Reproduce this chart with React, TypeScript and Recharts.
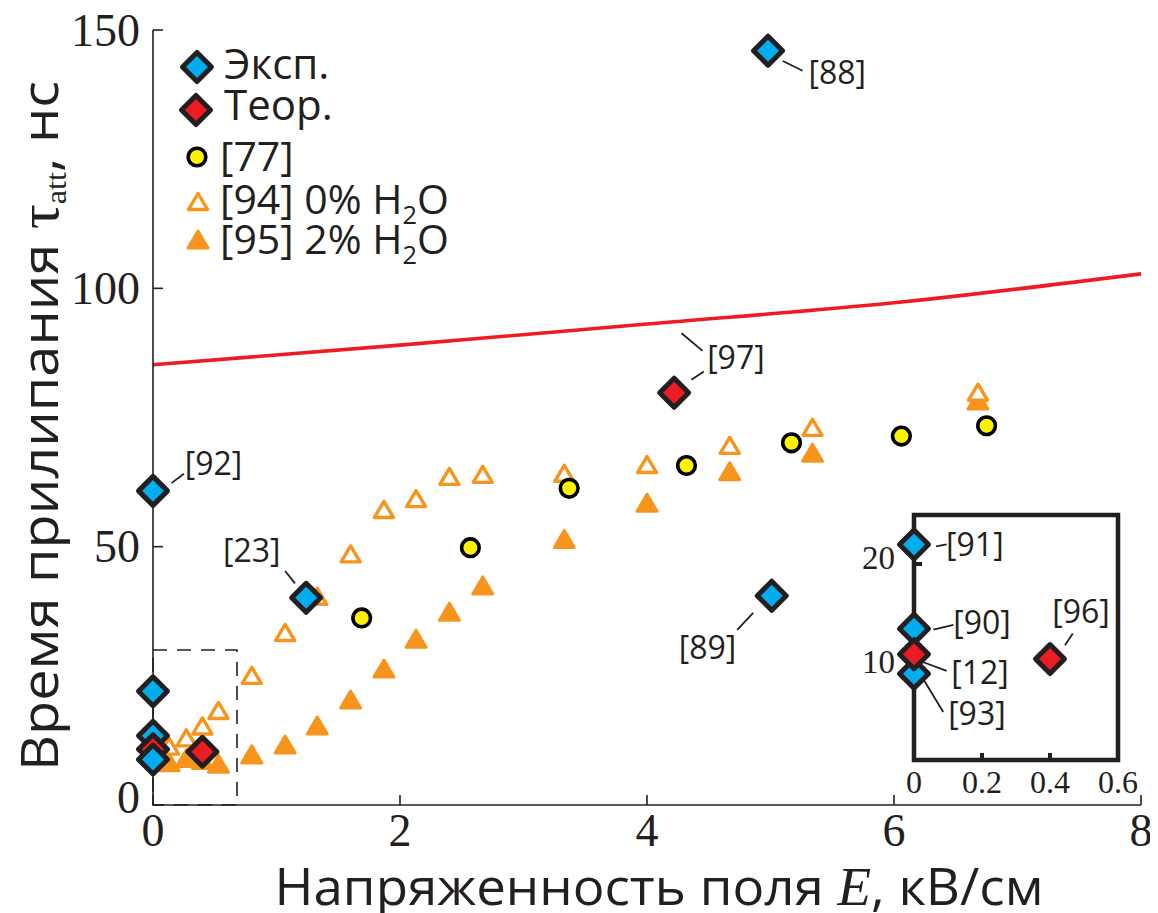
import React from 'react';
import {
  ComposedChart,
  XAxis,
  YAxis,
  Scatter,
  Line,
  ReferenceArea,
  ReferenceLine,
} from 'recharts';

const INK = '#231f20';
const BLUE = '#00aeef';
const RED = '#ed1c24';
const YELLOW = '#fff200';
const ORANGE = '#f7941d';
const SANS = "'Open Sans', 'Noto Sans', sans-serif";
const SERIF = "'Liberation Serif', 'Times New Roman', serif";

// Experimental attachment times: field E (kV/cm) and tau (ns)
const expRefs = ['[88]', '[92]', '[23]', '[89]', '[91]', '[90]', '[93]'];
const expE = [4.98, 0, 1.24, 5.01, 0, 0, 0];
const expTau = [146.0, 60.8, 40.1, 40.5, 22.0, 13.4, 8.8];

// Theoretical estimates
const theoRefs = ['[97]', '[12]', '[96]'];
const theoE = [4.22, 0, 0.4];
const theoTau = [79.8, 10.8, 10.3];

// [77]
const ref77E = [1.69, 2.57, 3.37, 4.32, 5.17, 6.06, 6.75];
const ref77Tau = [36.2, 49.8, 61.3, 65.7, 70.1, 71.4, 73.4];

// [94] 0% H2O
const ref94E = [0.13, 0.27, 0.4, 0.53, 0.8, 1.07, 1.33, 1.6, 1.87, 2.13, 2.4, 2.67, 3.33, 4.0, 4.67, 5.34, 6.68];
const ref94Tau = [11.3, 12.9, 15.2, 18.2, 25.0, 33.3, 40.3, 48.5, 57.1, 59.2, 63.5, 63.9, 64.1, 65.8, 69.5, 73.0, 79.8];

// [95] 2% H2O
const ref95E = [0.13, 0.27, 0.4, 0.53, 0.8, 1.07, 1.33, 1.6, 1.87, 2.13, 2.4, 2.67, 3.33, 4.0, 4.67, 5.34, 6.68];
const ref95Tau = [8.2, 9.0, 8.6, 7.9, 9.7, 11.6, 15.3, 20.3, 26.3, 32.1, 37.3, 42.4, 51.4, 58.4, 64.5, 68.1, 78.2];

// Theory curve
const curveE = [0, 2, 4, 6, 8];
const curveTau = [85.2, 89.0, 93.1, 97.2, 102.8];

// Axis ticks
const xTicks = [0, 2, 4, 6, 8];
const xInnerTicks = [2, 4, 6];
const yTicks = [0, 50, 100, 150];
const yRightTicks = [37.5, 75, 112.5];
const insetXTicks = [0, 0.2, 0.4, 0.6];
const insetXInner = [0.2, 0.4];
const insetYTicks = [10, 20];

const zip = (xs: number[], ys: number[]) => xs.map((x, i) => ({ x, y: ys[i] }));

type Diamond = { ref: string; x: number; y: number; kind: 'exp' | 'theo' };
const diamonds: Diamond[] = [
  ...expRefs.map((ref, i) => ({ ref, x: expE[i], y: expTau[i], kind: 'exp' as const })),
  ...theoRefs.map((ref, i) => ({ ref, x: theoE[i], y: theoTau[i], kind: 'theo' as const })),
];
const byRef = (r: string) => diamonds.find((d) => d.ref === r)!;

// drawing order of the overlapping diamonds at E = 0
const mainStack = ['[88]', '[92]', '[23]', '[89]', '[97]', '[91]', '[90]', '[12]', '[96]', '[93]'].map(byRef);
const insetStack = ['[93]', '[91]', '[90]', '[12]', '[96]'].map(byRef);

type Note = { ref: string; at: [number, number]; leads: [number, number][][] };
const mainNotes: Note[] = [
  { ref: '[88]', at: [5.54, 141.3], leads: [[[5.1, 144.0], [5.26, 142.1]]] },
  { ref: '[92]', at: [0.49, 65.6], leads: [[[0.15, 62.3], [0.25, 64.1]]] },
  { ref: '[23]', at: [0.8, 48.8], leads: [[[1.07, 45.3], [1.15, 42.9]]] },
  { ref: '[89]', at: [4.49, 30.0], leads: [[[4.73, 33.9], [4.86, 37.2]]] },
  {
    ref: '[97]',
    at: [4.72, 86.1],
    leads: [
      [[4.28, 91.3], [4.45, 87.9]],
      [[4.36, 82.3], [4.46, 83.9]],
    ],
  },
];
const insetNotes: Note[] = [
  { ref: '[91]', at: [0.179, 21.7], leads: [[[0.065, 21.8], [0.096, 22.0]]] },
  { ref: '[90]', at: [0.2, 13.7], leads: [[[0.057, 13.3], [0.116, 13.8]]] },
  { ref: '[12]', at: [0.194, 8.6], leads: [[[0.018, 10.1], [0.096, 9.1]]] },
  { ref: '[93]', at: [0.185, 4.5], leads: [[[0.023, 8.5], [0.086, 4.9]]] },
  { ref: '[96]', at: [0.491, 14.9], leads: [[[0.467, 12.9], [0.444, 11.7]]] },
];

const diamondPath = (cx: number, cy: number, h = 14.5) =>
  `M${cx},${cy - h}L${cx + h},${cy}L${cx},${cy + h}L${cx - h},${cy}Z`;

const DiamondShape = (p: any) => (
  <path
    d={diamondPath(p.cx, p.cy)}
    fill={p.payload.kind === 'exp' ? BLUE : RED}
    stroke={INK}
    strokeWidth={5}
    strokeLinejoin="round"
  />
);
const CircleShape = (p: any) => (
  <circle cx={p.cx} cy={p.cy} r={8.8} fill={YELLOW} stroke="#000" strokeWidth={3.6} />
);
const filledTri = (cx: number, cy: number) => (
  <path
    d={`M${cx},${cy - 9}L${cx + 10},${cy + 8}L${cx - 10},${cy + 8}Z`}
    fill={ORANGE}
    stroke={ORANGE}
    strokeWidth={3}
    strokeLinejoin="round"
  />
);
const openTri = (cx: number, cy: number) => (
  <path
    d={`M${cx},${cy - 8.5}L${cx + 9.5},${cy + 7.5}L${cx - 9.5},${cy + 7.5}Z`}
    fill="#fff"
    stroke={ORANGE}
    strokeWidth={3.4}
    strokeLinejoin="round"
  />
);
const FilledTriShape = (p: any) => filledTri(p.cx, p.cy);
const OpenTriShape = (p: any) => openTri(p.cx, p.cy);

const NoteShape = (p: any) => (
  <text x={p.cx} y={p.cy} dy="0.27em" textAnchor="middle" fontFamily={SANS} fontSize={32} fill={INK}>
    {p.payload.text}
  </text>
);

const EmptyTick = () => <g />;

const MainYTick = (p: any) => (
  <text
    x={p.x}
    y={p.y + (p.payload.value === 0 ? -8 : 0)}
    dy="0.34em"
    textAnchor="end"
    fontFamily={SERIF}
    fontSize={46}
    fill={INK}
  >
    {p.payload.value}
  </text>
);
const MainXTick = (p: any) => (
  <text x={p.x} y={p.y} dy="0.68em" textAnchor="middle" fontFamily={SERIF} fontSize={46} fill={INK}>
    {p.payload.value}
  </text>
);
const InsetYTick = (p: any) => (
  <text
    x={p.x}
    y={p.y + (p.payload.value === 20 ? -6 : 0)}
    dy="0.34em"
    textAnchor="end"
    fontFamily={SERIF}
    fontSize={33}
    fill={INK}
  >
    {p.payload.value}
  </text>
);
const InsetXTick = (p: any) => (
  <text x={p.x} y={p.y} dy="0.68em" textAnchor="middle" fontFamily={SERIF} fontSize={32} fill={INK}>
    {p.payload.value === 0 ? '0' : p.payload.value.toFixed(1)}
  </text>
);

const notePoints = (notes: Note[]) => notes.map((n) => ({ x: n.at[0], y: n.at[1], text: n.ref }));
const leaderLines = (notes: Note[], key: string) =>
  notes.flatMap((n, i) =>
    n.leads.map((seg, j) => (
      <ReferenceLine
        key={`${key}-${i}-${j}`}
        segment={[
          { x: seg[0][0], y: seg[0][1] },
          { x: seg[1][0], y: seg[1][1] },
        ]}
        stroke={INK}
        strokeWidth={1.8}
      />
    ))
  );

const tickLine = { stroke: INK, strokeWidth: 1.6 };
const insetTickLine = { stroke: INK, strokeWidth: 4 };

const legendRows = [
  { label: 'Эксп.', marker: 'exp' },
  { label: 'Теор.', marker: 'theo' },
  { label: '[77]', marker: 'circle' },
  { label: '[94] 0% H2O', marker: 'open' },
  { label: '[95] 2% H2O', marker: 'filled' },
];

function LegendMarker({ kind, x, y }: { kind: string; x: number; y: number }) {
  if (kind === 'exp' || kind === 'theo')
    return (
      <path
        d={diamondPath(x, y)}
        fill={kind === 'exp' ? BLUE : RED}
        stroke={INK}
        strokeWidth={5}
        strokeLinejoin="round"
      />
    );
  if (kind === 'circle') return <circle cx={x} cy={y} r={8.8} fill={YELLOW} stroke="#000" strokeWidth={3.6} />;
  if (kind === 'open') return openTri(x, y);
  return filledTri(x, y);
}

function LegendLabel({ text, x, y, size }: { text: string; x: number; y: number; size: number }) {
  const m = text.match(/^(.*H)2(O)$/);
  return (
    <text x={x} y={y} fontFamily={SANS} fontSize={size} fill={INK}>
      {m ? (
        <>
          {m[1]}
          <tspan fontSize={size * 0.62} dy={10}>
            2
          </tspan>
          <tspan dy={-10}>{m[2]}</tspan>
        </>
      ) : (
        text
      )}
    </text>
  );
}

const legendLayout = [
  { mx: 189, my: 59, tx: 216, ty: 71, size: 42 },
  { mx: 188, my: 102, tx: 216, ty: 112, size: 42 },
  { mx: 189, my: 149, tx: 212, ty: 163, size: 41 },
  { mx: 190, my: 194, tx: 212, ty: 206, size: 41 },
  { mx: 190, my: 232, tx: 212, ty: 246, size: 41 },
];

export default function App() {
  return (
    <div style={{ position: 'relative', width: 1150, height: 905, background: '#fff' }}>
      <ComposedChart width={1150} height={905} margin={{ top: 22, right: 17, bottom: 0, left: 0 }}>
        <XAxis
          xAxisId={0}
          dataKey="x"
          type="number"
          domain={[0, 8]}
          ticks={xTicks}
          interval={0}
          height={108}
          tickSize={-10}
          tickMargin={20}
          axisLine={tickLine}
          tickLine={tickLine}
          tick={MainXTick}
        />
        <XAxis
          xAxisId="top"
          orientation="top"
          type="number"
          domain={[0, 8]}
          ticks={xInnerTicks}
          interval={0}
          height={0}
          tickSize={-10}
          axisLine={tickLine}
          tickLine={tickLine}
          tick={EmptyTick}
          allowDataOverflow
        />
        <YAxis
          yAxisId={0}
          dataKey="y"
          type="number"
          domain={[0, 150]}
          ticks={yTicks}
          interval={0}
          width={145}
          tickSize={-10}
          tickMargin={23}
          axisLine={tickLine}
          tickLine={tickLine}
          tick={MainYTick}
        />
        <YAxis
          yAxisId="right"
          orientation="right"
          type="number"
          domain={[0, 150]}
          ticks={yRightTicks}
          interval={0}
          width={0}
          tickSize={-10}
          axisLine={tickLine}
          tickLine={tickLine}
          tick={EmptyTick}
          allowDataOverflow
        />
        <ReferenceArea
          x1={0}
          x2={0.68}
          y1={0}
          y2={30}
          fill="none"
          fillOpacity={0}
          stroke={INK}
          strokeWidth={1.6}
          strokeDasharray="14 10"
        />
        <Line
          data={zip(curveE, curveTau)}
          dataKey="y"
          type="monotone"
          stroke={RED}
          strokeWidth={3.6}
          dot={false}
          isAnimationActive={false}
        />
        {leaderLines(mainNotes, 'main')}
        <Scatter data={zip(ref95E, ref95Tau)} shape={FilledTriShape} isAnimationActive={false} />
        <Scatter data={zip(ref94E, ref94Tau)} shape={OpenTriShape} isAnimationActive={false} />
        <Scatter data={zip(ref77E, ref77Tau)} shape={CircleShape} isAnimationActive={false} />
        <Scatter data={mainStack} shape={DiamondShape} isAnimationActive={false} />
        <Scatter data={notePoints(mainNotes)} shape={NoteShape} isAnimationActive={false} />
      </ComposedChart>

      <svg
        width={1150}
        height={905}
        style={{ position: 'absolute', left: 0, top: 0, pointerEvents: 'none' }}
      >
        {legendRows.map((row, i) => {
          const l = legendLayout[i];
          return (
            <g key={row.label}>
              <LegendMarker kind={row.marker} x={l.mx} y={l.my} />
              <LegendLabel text={row.label} x={l.tx} y={l.ty} size={l.size} />
            </g>
          );
        })}
        <text
          x={651}
          y={897}
          textAnchor="middle"
          fontFamily={SANS}
          fontSize={52}
          fill={INK}
          textLength={769}
          lengthAdjust="spacingAndGlyphs"
        >
          Напряженность поля{' '}
          <tspan fontFamily={SERIF} fontStyle="italic" fontSize={54}>
            E
          </tspan>
          , кВ/см
        </text>
        <g transform="translate(50,418) rotate(-90)">
          <text
            x={0}
            y={0}
            textAnchor="middle"
            fontFamily={SANS}
            fontSize={52}
            fill={INK}
            textLength={690}
            lengthAdjust="spacingAndGlyphs"
          >
            Время прилипания{' '}
            <tspan fontFamily={SERIF} fontSize={58}>
              τ
            </tspan>
            <tspan fontFamily={SERIF} fontSize={30} dy={8}>
              att
            </tspan>
            <tspan dy={-8}>, нс</tspan>
          </text>
        </g>
      </svg>

      <div style={{ position: 'absolute', left: 842, top: 492 }}>
        <ComposedChart width={290} height={300} margin={{ top: 15, right: 22, bottom: 0, left: 0 }}>
          <ReferenceArea
            x1={0}
            x2={0.6}
            y1={0}
            y2={25}
            fill="#fff"
            fillOpacity={1}
            stroke={INK}
            strokeWidth={4.5}
          />
          <XAxis
            xAxisId={0}
            dataKey="x"
            type="number"
            domain={[0, 0.6]}
            ticks={insetXTicks}
            interval={0}
            height={40}
            tickSize={-7}
            tickMargin={18}
            axisLine={false}
            tickLine={insetTickLine}
            tick={InsetXTick}
          />
          <XAxis
            xAxisId="top"
            orientation="top"
            type="number"
            domain={[0, 0.6]}
            ticks={insetXInner}
            interval={0}
            height={0}
            tickSize={-7}
            axisLine={false}
            tickLine={insetTickLine}
            tick={EmptyTick}
            allowDataOverflow
          />
          <YAxis
            yAxisId={0}
            dataKey="y"
            type="number"
            domain={[0, 25]}
            ticks={insetYTicks}
            interval={0}
            width={64}
            tickSize={-8}
            tickMargin={27}
            axisLine={false}
            tickLine={insetTickLine}
            tick={InsetYTick}
          />
          <YAxis
            yAxisId="right"
            orientation="right"
            type="number"
            domain={[0, 25]}
            ticks={insetYTicks}
            interval={0}
            width={0}
            tickSize={-8}
            axisLine={false}
            tickLine={insetTickLine}
            tick={EmptyTick}
            allowDataOverflow
          />
          {leaderLines(insetNotes, 'inset')}
          <Scatter data={insetStack} shape={DiamondShape} isAnimationActive={false} />
          <Scatter data={notePoints(insetNotes)} shape={NoteShape} isAnimationActive={false} />
        </ComposedChart>
      </div>
    </div>
  );
}
